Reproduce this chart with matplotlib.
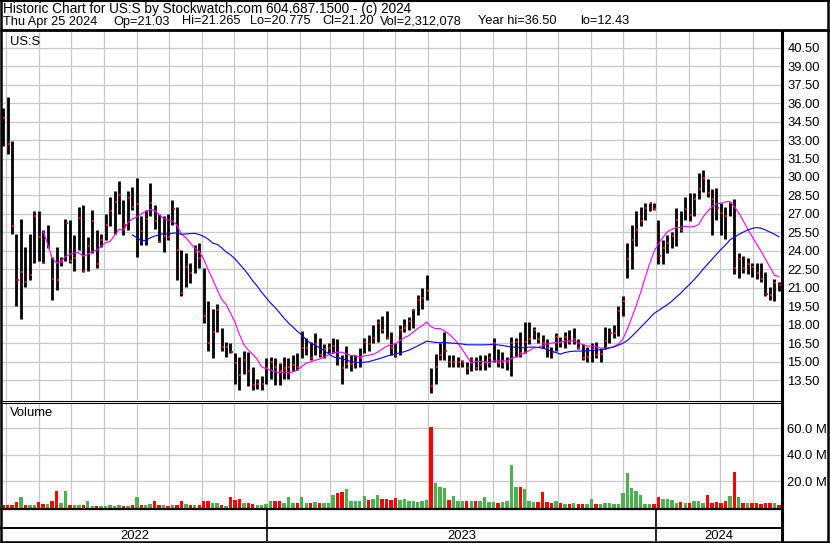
import numpy as np
import pandas as pd
import matplotlib
matplotlib.use('Agg')
import matplotlib.pyplot as plt

plt.rcParams['font.family'] = ['Liberation Sans', 'DejaVu Sans']

TITLE = 'Historic Chart for US:S by Stockwatch.com 604.687.1500 - (c) 2024'
SUBTITLE = ['Thu Apr 25 2024', 'Op=21.03', 'Hi=21.265', 'Lo=20.775',
            'Cl=21.20', 'Vol=2,312,078', 'Year hi=36.50', 'lo=12.43']
SUBTITLE_X = [2.5, 113, 182, 250, 322, 380, 478, 580]   # pixels
SYMBOL = 'US:S'

FIRST_DAY = '2022-04-28'
LAST_DAY = '2024-04-25'

# one bar for roughly every three sessions
HIGH = [35.6, 36.5, 32.9, 25.4, 26.6, 24.3, 25.4, 27.2, 27.2, 25.7,
        26.1, 23.5, 24.3, 23.5, 26.6, 26.5, 25.3, 27.6, 27.7, 25.1,
        27.3, 25.7, 25.4, 27.0, 28.4, 28.9, 29.7, 28.1, 28.9, 29.2,
        29.9, 26.8, 27.3, 29.5, 27.7, 27.0, 26.8, 27.0, 28.1, 27.6,
        24.1, 23.8, 23.0, 24.5, 24.6, 22.6, 19.9, 19.3, 19.7, 17.7,
        16.6, 16.5, 15.7, 15.4, 15.9, 15.8, 14.6, 13.6, 13.8, 15.3,
        15.4, 15.3, 14.9, 15.4, 15.3, 15.5, 15.7, 17.5, 16.9, 16.6,
        17.3, 16.9, 16.4, 16.5, 16.9, 16.8, 15.5, 16.3, 15.5, 15.5,
        16.1, 16.9, 17.2, 18.0, 18.5, 18.7, 19.1, 17.4, 16.5, 18.0,
        18.5, 18.6, 19.3, 20.4, 21.0, 22.0, 14.5, 15.6, 16.5, 17.4,
        15.5, 15.5, 15.4, 15.1, 15.0, 15.4, 15.4, 15.5, 15.5, 15.7,
        16.9, 16.0, 15.8, 15.4, 17.0, 16.9, 17.4, 18.2, 18.2, 17.8,
        17.4, 17.2, 16.8, 16.2, 17.3, 17.0, 17.4, 17.6, 17.7, 16.8,
        16.4, 16.2, 16.5, 16.6, 16.1, 17.8, 17.7, 18.0, 19.5, 20.3,
        24.6, 26.1, 27.2, 27.6, 27.9, 27.9, 27.9, 26.5, 24.9, 25.3,
        25.5, 27.5, 27.2, 28.4, 28.7, 28.7, 30.3, 30.6, 29.8, 29.0,
        29.1, 27.9, 27.6, 28.0, 28.2, 23.8, 23.6, 23.4, 23.0, 23.0,
        23.0, 22.3, 21.1, 21.7, 21.5]
LOW = [32.5, 31.9, 25.4, 19.5, 18.5, 21.1, 21.6, 23.0, 23.2, 23.0,
       24.2, 20.0, 20.8, 22.8, 23.2, 23.0, 22.4, 24.1, 22.3, 22.4,
       23.8, 22.6, 24.3, 24.9, 26.0, 25.4, 27.0, 25.3, 25.7, 27.3,
       23.5, 24.5, 24.5, 26.8, 25.8, 24.7, 23.9, 24.9, 26.1, 21.6,
       20.3, 21.1, 21.4, 22.2, 22.6, 18.1, 15.9, 15.3, 17.4, 15.9,
       15.4, 15.7, 13.2, 12.7, 14.0, 13.0, 12.7, 12.8, 12.7, 13.2,
       13.6, 13.1, 13.1, 13.6, 13.6, 14.2, 14.3, 15.3, 15.5, 15.1,
       15.5, 15.4, 15.3, 15.7, 15.7, 14.7, 13.2, 14.5, 14.2, 14.5,
       14.6, 15.7, 15.9, 16.5, 16.6, 17.3, 16.8, 15.5, 15.4, 15.5,
       17.4, 17.6, 17.7, 18.8, 19.3, 20.0, 12.43, 13.2, 15.1, 15.1,
       14.6, 14.6, 14.6, 14.6, 14.0, 14.2, 14.3, 14.3, 14.3, 14.6,
       15.0, 14.6, 14.5, 14.3, 13.8, 15.4, 15.4, 15.7, 16.4, 16.8,
       16.5, 16.1, 15.4, 15.3, 15.9, 16.2, 16.1, 16.4, 16.4, 16.0,
       15.1, 15.0, 15.0, 15.3, 15.0, 16.0, 16.5, 16.9, 17.1, 18.7,
       21.8, 22.5, 24.4, 26.0, 26.5, 27.2, 27.3, 22.9, 22.9, 23.8,
       24.2, 24.4, 25.5, 26.5, 26.4, 26.8, 28.2, 28.8, 28.4, 25.3,
       26.5, 25.3, 25.0, 26.8, 22.1, 21.8, 22.2, 22.1, 21.9, 21.7,
       21.5, 20.3, 20.0, 19.9, 20.775]
CLOSE = [34.8, 32.7, 26.0, 21.6, 22.3, 21.5, 22.0, 26.8, 25.1, 23.0,
         24.3, 21.7, 21.6, 23.1, 26.3, 23.2, 23.4, 26.7, 22.4, 24.4,
         26.4, 22.9, 24.9, 26.1, 27.2, 28.0, 28.5, 26.1, 28.3, 27.6,
         27.8, 25.6, 26.6, 27.9, 26.4, 24.7, 25.2, 25.1, 27.4, 24.1,
         20.6, 22.7, 22.2, 23.9, 23.4, 18.7, 16.5, 17.4, 19.2, 16.2,
         16.2, 15.8, 14.9, 13.9, 15.1, 14.2, 13.1, 13.2, 13.2, 14.5,
         15.0, 14.6, 14.2, 14.5, 14.6, 14.7, 14.6, 16.1, 16.1, 15.3,
         16.4, 15.5, 16.0, 16.1, 16.3, 15.3, 14.5, 14.8, 14.8, 15.0,
         15.3, 16.6, 16.4, 16.9, 18.1, 17.6, 16.9, 16.1, 15.5, 17.6,
         17.7, 18.3, 19.2, 20.0, 20.2, 20.7, 13.0, 14.6, 15.5, 15.9,
         15.0, 15.0, 15.0, 15.0, 14.5, 15.1, 14.5, 14.7, 15.0, 15.3,
         16.5, 14.9, 15.0, 15.0, 16.5, 16.6, 15.7, 16.6, 16.8, 17.6,
         16.8, 16.5, 16.1, 15.8, 17.0, 16.6, 17.0, 16.6, 16.8, 16.1,
         15.3, 15.4, 16.0, 15.5, 15.6, 16.7, 17.3, 17.3, 19.1, 19.9,
         23.3, 24.9, 25.7, 26.4, 27.5, 27.9, 27.4, 23.6, 24.2, 24.6,
         25.2, 26.5, 25.7, 27.4, 26.9, 28.2, 29.0, 29.9, 28.7, 28.2,
         27.5, 27.1, 26.8, 27.9, 22.6, 23.3, 22.6, 22.9, 22.7, 22.2,
         21.7, 20.5, 20.4, 21.4, 21.20]
# volume in millions of shares
VOLUME = [2.0, 2.5, 2.0, 4.5, 8.6, 2.5, 2.5, 2.0, 4.5, 3.0,
          3.0, 5.5, 13.0, 3.5, 12.5, 2.5, 2.5, 2.0, 2.5, 5.0,
          1.5, 1.5, 1.5, 1.5, 2.0, 1.5, 2.0, 1.5, 1.5, 2.0,
          8.0, 2.5, 2.0, 3.0, 5.5, 2.0, 2.0, 1.5, 2.0, 2.5,
          5.0, 3.0, 2.5, 2.5, 2.5, 5.0, 5.5, 4.0, 3.5, 2.0,
          1.8, 8.5, 6.0, 6.5, 4.0, 3.5, 3.0, 2.0, 2.0, 3.0,
          5.0, 5.5, 5.0, 4.0, 8.0, 4.0, 4.0, 8.0, 4.0, 3.5,
          4.5, 4.0, 3.5, 4.0, 10.0, 11.0, 12.0, 14.0, 5.0, 5.0,
          5.5, 9.0, 6.0, 7.0, 10.0, 6.5, 7.0, 6.0, 7.5, 6.0,
          6.5, 5.0, 5.5, 4.5, 5.0, 6.0, 61.0, 19.0, 15.5, 15.0,
          6.0, 9.0, 5.0, 5.0, 5.5, 5.0, 5.0, 5.5, 8.0, 4.5,
          4.5, 4.0, 4.5, 5.0, 32.0, 15.5, 16.0, 14.0, 5.0, 4.5,
          4.5, 12.0, 4.5, 4.0, 5.0, 3.5, 3.0, 3.0, 3.5, 3.0,
          3.0, 3.0, 7.0, 3.0, 3.0, 3.5, 3.5, 3.0, 3.0, 11.0,
          26.0, 15.0, 13.0, 10.0, 3.0, 3.0, 3.0, 8.5, 6.5, 7.0,
          6.0, 4.0, 4.5, 4.0, 4.0, 5.0, 5.5, 4.0, 10.0, 4.0,
          4.5, 4.0, 5.0, 9.0, 27.0, 8.0, 3.5, 4.0, 3.5, 3.5,
          3.0, 3.5, 4.0, 3.5, 2.3]

PRICE_TICKS = [13.5, 15.0, 16.5, 18.0, 19.5, 21.0, 22.5, 24.0, 25.5, 27.0,
               28.5, 30.0, 31.5, 33.0, 34.5, 36.0, 37.5, 39.0, 40.5]
VOLUME_TICKS = [20, 40, 60]
YEARS = ['2022', '2023', '2024']
FAST_MA = 10   # bars
SLOW_MA = 30   # bars

W, H = 830, 543
GRID = '#c8c8c8'
UP_GREEN = '#4caf50'
FS = 9.4


def px_rect(x0, y0, x1, y1):
    return [x0 / W, 1 - y1 / H, (x1 - x0) / W, (y1 - y0) / H]


dates = pd.date_range(FIRST_DAY, LAST_DAY, periods=len(CLOSE))
close = pd.Series(CLOSE)
fast = close.rolling(FAST_MA).mean()
slow = close.rolling(SLOW_MA).mean()
months = pd.date_range('2022-05-01', LAST_DAY, freq='MS')
year_starts = pd.to_datetime([y + '-01-01' for y in YEARS[1:]])
xmin = dates[0] - pd.Timedelta(days=1)
xmax = dates[-1] + pd.Timedelta(days=2)

fig = plt.figure(figsize=(W / 100, H / 100), dpi=100)

# price panel
ax = fig.add_axes(px_rect(2, 31, 781, 400))
ax.set_xlim(xmin, xmax)
ax.set_ylim(11.88, 41.86)
ax.set_xticks(months)
ax.set_yticks(PRICE_TICKS)
ax.set_yticklabels(['%.2f' % t for t in PRICE_TICKS])
ax.yaxis.tick_right()
ax.tick_params(axis='y', length=0, pad=4.5, labelsize=FS)
ax.tick_params(axis='x', length=0, labelbottom=False)
ax.grid(color=GRID, lw=0.9)
ax.set_axisbelow(True)
for s in ax.spines.values():
    s.set_visible(False)
ax.vlines(dates, LOW, HIGH, color='black', lw=2.0)
ax.plot(dates + pd.Timedelta(days=1), CLOSE, 's', color='red', ms=1.7, mew=0)
ax.plot(dates, fast, color='#ff00ff', lw=0.8)
ax.plot(dates, slow, color='#0000ff', lw=0.8)
ax.text(0.01, 0.97, SYMBOL, transform=ax.transAxes, fontsize=FS,
        va='center', ha='left')

# volume panel
vax = fig.add_axes(px_rect(2, 403, 781, 508))
colors = ['red'] + ['red' if c < p else UP_GREEN
                    for p, c in zip(CLOSE[:-1], CLOSE[1:])]
vax.bar(dates, VOLUME, width=3.2, color=colors, lw=0)
vax.set_xlim(xmin, xmax)
vax.set_ylim(0, 79)
vax.set_xticks(months)
vax.set_yticks(VOLUME_TICKS)
vax.set_yticklabels(['%.1f M' % t for t in VOLUME_TICKS])
vax.yaxis.tick_right()
vax.tick_params(axis='y', length=0, pad=4.5, labelsize=FS)
vax.tick_params(axis='x', length=0, labelbottom=False)
vax.grid(color=GRID, lw=0.9)
vax.set_axisbelow(True)
for s in vax.spines.values():
    s.set_visible(False)
vax.text(0.01, 0.9, 'Volume', transform=vax.transAxes, fontsize=FS,
         va='center', ha='left')

# year strip
yax = fig.add_axes(px_rect(2, 509, 781, 541))
yax.set_xlim(xmin, xmax)
yax.set_ylim(0, 1)
yax.axis('off')
yax.vlines(year_starts, 0, 1, color='black', lw=1.2)
edges = [xmin] + list(year_starts) + [xmax]
for name, a, b in zip(YEARS, edges[:-1], edges[1:]):
    yax.text(a + (b - a) / 2, 0.17, name, ha='center', va='center',
             fontsize=FS)

# frame lines, in pixels
frame = fig.add_axes([0, 0, 1, 1], zorder=10)
frame.set_xlim(0, W)
frame.set_ylim(H, 0)
frame.axis('off')
frame.patch.set_alpha(0)
k = dict(color='black', solid_capstyle='butt')
frame.plot([1, 1], [0, H], lw=1.8, **k)
frame.plot([W - 2, W - 2], [0, H], lw=1.8, **k)
frame.plot([0, W], [1, 1], lw=1.5, **k)
frame.plot([0, W], [H - 1.5, H - 1.5], lw=1.8, **k)
frame.plot([0, W], [30.3, 30.3], lw=2.0, **k)
frame.plot([782, 782], [30, H], lw=2.2, **k)
frame.plot([0, 782], [400.5, 400.5], lw=0.8, **k)
frame.plot([0, 782], [402.7, 402.7], lw=0.8, **k)
frame.plot([0, 782], [509.2, 509.2], lw=1.6, **k)
frame.plot([0, 782], [527.6, 527.6], lw=1.4, **k)
frame.text(2.5, 8.5, TITLE, fontsize=9.8, va='center', ha='left')
for text, x in zip(SUBTITLE, SUBTITLE_X):
    frame.text(x, 21.5, text, fontsize=9.2, va='center', ha='left')

fig.savefig('out.png', dpi=100)
